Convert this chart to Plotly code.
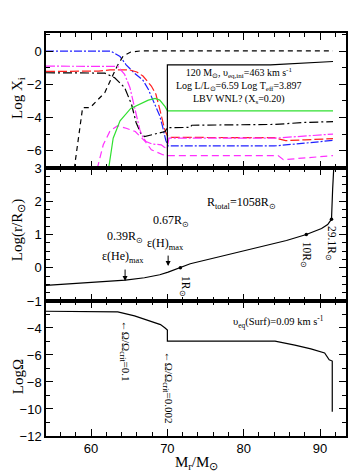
import plotly.graph_objects as go

# ---------------- data ----------------
# Panel 1: Log X_i vs M_r
m_blue = [54.1, 62.6, 63.8, 64.6, 65.7, 66.8, 67.5, 68.4, 69.0, 69.4, 69.8, 70.1, 84.0, 88.0, 91.7]
x_blue = [0.0, 0.0, -0.32, -0.82, -1.33, -1.75, -2.3, -3.2, -3.9, -4.6, -5.4, -5.72, -5.72, -5.55, -5.38]

m_red = [54.1, 61.0, 62.5, 65.0, 66.0, 66.8, 67.9, 68.5, 69.0, 69.4, 69.7, 70.0, 70.3, 84.0, 85.5, 88.0, 91.7]
x_red = [-1.22, -1.2, -1.13, -1.12, -1.25, -1.5, -2.1, -2.6, -3.5, -4.3, -4.8, -5.1, -5.2, -5.22, -5.4, -5.35, -5.28]

m_kdd = [54.1, 61.8, 63.1, 64.4, 65.3, 65.9, 66.5, 67.0, 69.7, 70.0, 73.0, 73.2, 84.0, 88.0, 91.7]
x_kdd = [-1.3, -1.32, -1.6, -2.2, -3.2, -4.3, -4.95, -5.15, -4.85, -4.62, -4.6, -4.47, -4.42, -4.3, -4.25]

m_kd = [57.8, 58.1, 58.6, 58.9, 59.9, 61.8, 62.6, 63.5, 64.2, 65.2, 66.5, 91.7]
x_kd = [-7.1, -6.0, -4.2, -3.4, -3.4, -2.5, -1.7, -0.83, -0.3, -0.05, 0.02, 0.02]

m_mag1 = [54.1, 63.5, 64.4, 65.1, 65.5, 66.0, 66.4, 66.8, 67.2, 68.0, 69.2, 69.6, 70.0, 70.2, 84.0, 91.7]
x_mag1 = [-0.9, -0.92, -1.4, -2.2, -3.0, -4.0, -4.75, -5.2, -5.45, -5.6, -5.65, -5.8, -5.85, -5.25, -5.25, -5.0]

m_mag2 = [60.8, 61.2, 61.6, 62.5, 63.5, 64.6, 65.8, 67.1, 67.9, 69.4, 70.0, 84.5, 85.2, 91.7]
x_mag2 = [-7.1, -6.3, -5.65, -4.8, -4.5, -4.65, -4.85, -5.45, -5.95, -6.25, -6.3, -6.3, -6.55, -6.3]

m_green = [62.3, 62.6, 62.9, 63.8, 65.2, 67.5, 68.4, 69.0, 69.7, 70.0, 91.7]
x_green = [-7.1, -6.2, -5.25, -4.2, -3.45, -2.95, -2.85, -2.95, -3.35, -3.6, -3.6]

m_hyd = [70.0, 70.0, 83.5, 91.7]
x_hyd = [-7.1, -0.82, -0.82, -0.62]

# Panel 2: Log(r/Rsun)
m_rad = [54.1, 58.0, 62.0, 64.5, 67.0, 69.0, 70.1, 71.7, 73.0, 76.8, 81.2, 85.6, 88.2, 90.2, 91.0, 91.5, 91.65, 91.8]
r_rad = [-0.53, -0.47, -0.42, -0.37, -0.30, -0.21, -0.13, 0.0, 0.12, 0.33, 0.58, 0.82, 1.0, 1.18, 1.3, 1.46, 2.36, 3.02]
m_dots = [71.7, 88.2, 91.5]
r_dots = [0.0, 1.0, 1.46]

# Panel 3: Log Omega
m_om = [54.1, 63.5, 65.7, 67.8, 69.1, 69.7, 70.0, 70.0, 84.1, 86.7, 88.8, 90.6, 91.2, 91.6, 91.6]
om = [-2.76, -2.8, -3.1, -3.5, -3.75, -4.0, -4.15, -4.97, -4.97, -5.27, -5.55, -5.85, -6.35, -6.45, -10.2]

XR = [54.1, 93.4]

fig = go.Figure()

def add(m, v, color, dash, ya, xa):
    fig.add_trace(go.Scatter(x=m, y=v, mode="lines", line=dict(color=color, width=1.2, dash=dash),
                             xaxis=xa, yaxis=ya, showlegend=False, hoverinfo="skip"))

add(m_blue, x_blue, "#2020ff", "8px,2px,2px,2px", "y", "x")
add(m_red, x_red, "#ff2020", "9px,3px", "y", "x")
add(m_kdd, x_kdd, "black", "9px,3px,2px,3px", "y", "x")
add(m_kd, x_kd, "black", "5px,4px", "y", "x")
add(m_mag1, x_mag1, "#ff30ff", "9px,2px,2px,2px", "y", "x")
add(m_mag2, x_mag2, "#ff30ff", "7px,4px", "y", "x")
add(m_green, x_green, "#30e030", "solid", "y", "x")
add(m_hyd, x_hyd, "black", "solid", "y", "x")

add(m_rad, r_rad, "black", "solid", "y2", "x2")
fig.add_trace(go.Scatter(x=m_dots, y=r_dots, mode="markers", marker=dict(color="black", size=3.5),
                         xaxis="x2", yaxis="y2", showlegend=False, hoverinfo="skip"))
add(m_om, om, "black", "solid", "y3", "x3")

axcommon = dict(showline=True, linecolor="black", linewidth=1.5, mirror="allticks",
                ticks="inside", ticklen=7, tickwidth=1.2, tickcolor="black",
                showgrid=False, zeroline=False,
                tickfont=dict(family="Liberation Sans", size=13, color="black"))

d3 = [0.0, 0.335]
d2 = [0.335, 0.665]
d1 = [0.665, 1.0]

def minor(dt):
    return dict(dtick=dt, ticklen=4, ticks="inside", tickcolor="black", tickwidth=1)

fig.update_layout(
    width=357, height=476,
    margin=dict(l=38, r=19, t=25, b=48),
    paper_bgcolor="white", plot_bgcolor="white",
    xaxis=dict(domain=[0, 1], range=XR, anchor="y", showticklabels=False, dtick=10, tick0=0,
               minor=minor(2), **axcommon),
    xaxis2=dict(domain=[0, 1], range=XR, anchor="y2", showticklabels=False, dtick=10, tick0=0,
                minor=minor(2), **axcommon),
    xaxis3=dict(domain=[0, 1], range=XR, anchor="y3", dtick=10, tick0=0,
                minor=minor(2), **axcommon),
    yaxis=dict(domain=d1, range=[-7.05, 1.1], anchor="x", tickvals=[-6, -4, -2, 0],
               minor=minor(1), **axcommon),
    yaxis2=dict(domain=d2, range=[-1, 3], anchor="x2", tickvals=[-1, 0, 1, 2, 3],
                minor=minor(0.25), **axcommon),
    yaxis3=dict(domain=d3, range=[-12, -2], anchor="x3", tickvals=[-12, -10, -8, -6, -4],
                minor=minor(1), **axcommon),
)

serif = "Liberation Serif"
anns = []
def ann(text, x, y, xref, yref, size=11, angle=0, **kw):
    anns.append(dict(text=text, x=x, y=y, xref=xref, yref=yref, showarrow=False, textangle=angle,
                     font=dict(family=serif, size=size, color="black"), xanchor="center", yanchor="middle", **kw))

# axis titles
ann("Log X<sub>i</sub>", -0.093, 0.839, "paper", "paper", size=15, angle=-90)
ann("Log(r/R<sub>⊙</sub>)", -0.093, 0.511, "paper", "paper", size=15, angle=-90)
ann("LogΩ", -0.093, 0.146, "paper", "paper", size=15, angle=-90)
ann("M<sub>r</sub>/M<sub>⊙</sub>", 0.503, -0.067, "paper", "paper", size=15)

# panel 1 text
ann("120 M<sub>⊙</sub>, υ<sub>eq,ini</sub>=463 km s<sup>-1</sup><br>Log L/L<sub>⊙</sub>=6.59 Log T<sub>eff</sub>=3.897<br>LBV WNL? (X<sub>s</sub>=0.20)",
    79.4, -2.1, "x", "y", size=10, align="center")

# panel 2 text
ann("R<sub>total</sub>=1058R<sub>⊙</sub>", 79.66, 1.95, "x2", "y2", size=12)
ann("0.67R<sub>⊙</sub>", 70.5, 1.41, "x2", "y2", size=12)
ann("ε(H)<sub>max</sub>", 69.7, 0.71, "x2", "y2", size=12)
ann("0.39R<sub>⊙</sub>", 64.46, 0.92, "x2", "y2", size=12)
ann("ε(He)<sub>max</sub>", 64.2, 0.32, "x2", "y2", size=12)
ann("1R<sub>⊙</sub>", 72.3, -0.55, "x2", "y2", size=11.5, angle=90)
ann("10R<sub>⊙</sub>", 88.2, 0.38, "x2", "y2", size=11.5, angle=90)
ann("29.1R<sub>⊙</sub>", 91.45, 0.74, "x2", "y2", size=11.5, angle=90)

# panel 3 text
ann("υ<sub>eq</sub>(Surf)=0.09 km s<sup>-1</sup>", 84.6, -3.56, "x3", "y3", size=10.5)
ann("←Ω/Ω<sub>crit</sub>=0.1", 64.46, -5.7, "x3", "y3", size=11, angle=90)
ann("←Ω/Ω<sub>crit</sub>=0.002", 70.1, -8.44, "x3", "y3", size=11, angle=90)

# arrows in panel 2
for (xm, yh, ln) in [(70.1, 0.05, 12), (64.46, -0.4, 13)]:
    anns.append(dict(x=xm, y=yh, xref="x2", yref="y2", ax=0, ay=-ln, showarrow=True,
                     arrowhead=2, arrowsize=1, arrowwidth=1, arrowcolor="black", text=""))

fig.update_layout(annotations=anns)
fig.write_html("out.html")
